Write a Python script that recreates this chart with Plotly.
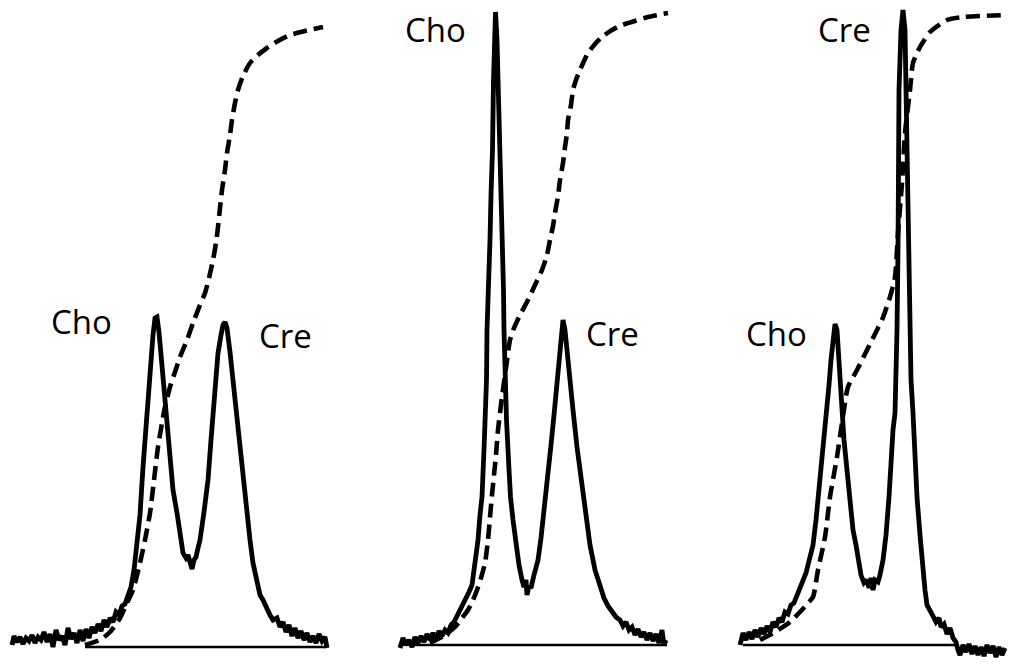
import plotly.graph_objects as go

# ---------- Panel 1 (Cho < Cre) ----------
p1_pts = [0, 2, 5, 8, 11, 14, 17, 20, 23, 26, 29, 32, 35, 38, 41, 44, 47, 50, 53, 56, 59, 62, 65, 68, 71, 74,
          77, 80, 83, 86, 89, 92, 95, 98, 101, 104, 107, 110, 113, 116, 119, 122, 125, 128, 131, 134, 136, 139,
          141, 143, 145, 147, 149, 151, 154, 158, 161, 165, 168, 171, 174, 176, 178, 180, 182, 184, 186, 188,
          192, 196, 199, 201, 204, 206, 209, 211, 213, 215, 218, 221, 224, 228, 231, 235, 238, 241, 245, 248,
          251, 255, 258, 261, 265, 268, 271, 274, 277, 280, 283, 286, 289, 292, 295, 298, 301, 304, 307, 310,
          313, 315]
p1_int = [0, 9, 3, 8, 1, 7, 4, 10, 2, 8, 5, 13, 3, 11, -2, 15, 5, 9, 0, 17, 6, 12, 2, 15, 4, 16,
          7, 18, 12, 21, 14, 25, 18, 27, 23, 33, 30, 39, 41, 49, 58, 75, 98, 130, 178, 220, 248, 285,
          310, 327, 328, 313, 290, 265, 225, 182, 155, 132, 110, 92, 87, 90, 83, 76, 85, 88, 97, 105,
          133, 165, 205, 232, 265, 292, 310, 320, 323, 317, 293, 265, 230, 192, 162, 132, 105, 82, 62, 50,
          45, 35, 30, 25, 27, 18, 23, 13, 20, 9, 17, 7, 14, 5, 12, 3, 9, 2, 11, 4,
          8, -3]
p1_integral_pts = [73, 88, 98, 108, 115, 121, 128, 133, 138, 142, 146, 150, 153, 158, 163, 168, 175, 181,
                   188, 193, 197, 201, 204, 206, 208, 210, 213, 215, 218, 220, 223, 226, 231, 238, 246, 255,
                   266, 278, 293, 311]
p1_integral = [0, 5, 13, 27, 42, 55, 82, 105, 132, 165, 198, 222, 238, 258, 273, 288, 305, 322,
               340, 352, 367, 385, 402, 418, 437, 455, 475, 492, 510, 525, 542, 555, 569, 582, 590, 597,
               604, 610, 614, 618]
p1_base_pts = [73, 313]
p1_base = [-2, -2]

# ---------- Panel 2 (Cho >> Cre) ----------
p2_pts = [0, 3, 6, 9, 12, 15, 18, 21, 24, 27, 30, 33, 36, 39, 42, 45, 48, 51, 54, 57, 60, 63, 66, 69, 72,
          75, 78, 80, 82, 84, 85.5, 86.5, 87, 89, 90, 91, 92.5, 93.5, 94.5, 95.5, 97, 98.5, 100, 101.5, 103,
          103.5, 104, 105, 106.5, 108.5, 110.5, 113, 116, 119, 122, 124, 126, 127, 129, 131, 134, 138, 141,
          144, 148, 151, 154, 157, 159, 161, 163, 165, 167, 170, 173, 177, 181, 185, 190, 195, 200, 204,
          208, 212, 216, 220, 223, 226, 229, 232, 235, 238, 241, 244, 247, 250, 253, 256, 259, 262, 264, 266]
p2_int = [-3, 7, 0, 5, -2, 8, 2, 9, 3, 11, 5, 12, 6, 14, 9, 15, 12, 20, 23, 29, 34, 40, 45, 53, 60,
          79, 105, 130, 148, 195, 225, 265, 315, 365, 405, 450, 495, 565, 615, 633, 605, 555, 495, 450, 405,
          355, 315, 265, 225, 185, 148, 125, 100, 80, 65, 58, 65, 50, 59, 57, 70, 85, 107,
          133, 167, 200, 230, 265, 290, 310, 325, 315, 293, 265, 235, 198, 165, 132, 100, 75, 57, 47,
          39, 33, 28, 25, 19, 23, 15, 18, 10, 16, 8, 13, 5, 12, 4, 11, 2, 15, 0, 5]
p2_integral_pts = [30, 45, 55, 62, 68, 73, 77, 81, 85, 88, 90, 92, 94, 96, 98, 102, 106, 110, 114, 120,
                   128, 135, 142, 147, 150, 153, 155, 158, 160, 163, 165, 167, 168, 171, 173, 176, 180,
                   184, 188, 195, 202, 212, 222, 235, 248, 268]
p2_integral = [2, 10, 18, 27, 35, 45, 55, 67, 82, 105, 128, 150, 170, 190, 215, 248, 277, 305, 317, 330,
               345, 360, 375, 390, 405, 419, 432, 449, 465, 482, 498, 512, 525, 540, 555, 565, 575,
               584, 592, 601, 608, 615, 620, 624, 628, 632]
p2_base_pts = [12, 267]
p2_base = [0, 0]

# ---------- Panel 3 (Cho < Cre, Cre narrow) ----------
p3_pts = [0, 3, 6, 9, 12, 15, 18, 21, 24, 27, 30, 33, 36, 39, 42, 45, 48, 51, 54, 57, 60, 63, 66, 68, 70,
          73, 76, 79, 81, 84, 87, 89, 91, 93, 95, 97, 99, 101, 104, 107, 110, 113, 116, 118, 121, 124, 127,
          129, 131, 133, 135, 138, 140, 143, 146, 149, 151, 153, 155, 156, 157, 158, 158.5, 159, 161, 163,
          165, 166, 168, 169.5, 170, 171, 173, 175, 177, 180, 182, 185, 187, 190, 193, 196, 199, 201, 204,
          207, 210, 213, 216, 218, 220, 223, 226, 229, 232, 235, 238, 241, 244, 247, 250, 253, 256, 259,
          262, 265]
p3_int = [0, 12, 5, 13, 6, 15, 8, 17, 11, 19, 13, 23, 18, 27, 23, 33, 31, 40, 42, 49, 55, 63, 72, 80, 89,
          100, 125, 155, 175, 205, 232, 260, 285, 310, 321, 315, 285, 245, 205, 175, 140, 115, 100, 85, 70,
          62, 65, 57, 67, 55, 65, 63, 70, 85, 110, 148, 185, 215, 232, 265, 315, 395, 478, 555, 615, 635,
          615, 555, 478, 395, 315, 265, 232, 185, 148, 110, 82, 55, 40, 33, 29, 23, 27, 18, 21,
          11, 17, 7, 3, -5, -10, 0, -7, 1, -9, -1, -10, -2, -11, 0, -8, -1, -12, -2,
          -10, -3]
p3_integral_pts = [20, 35, 50, 60, 68, 73, 78, 85, 90, 97, 102, 108, 117, 127, 137, 142, 150, 155, 158,
                   162, 165, 170, 173, 180, 190, 207, 223, 268]
p3_integral = [5, 13, 23, 33, 42, 48, 75, 108, 148, 188, 222, 258, 275, 295, 315, 325, 348, 368, 412,
               462, 512, 555, 582, 598, 613, 625, 628, 630]
p3_base_pts = [3, 217]
p3_base = [0, 0]

# ---------- Labels ----------
label_text = [["Cho", "Cre"], ["Cho", "Cre"], ["Cho", "Cre"]]
label_x = [[69, 273], [35, 212], [36, 104]]
label_y = [[324, 310], [616, 312], [312, 616]]

panels = [
    (p1_pts, p1_int, p1_integral_pts, p1_integral, p1_base_pts, p1_base),
    (p2_pts, p2_int, p2_integral_pts, p2_integral, p2_base_pts, p2_base),
    (p3_pts, p3_int, p3_integral_pts, p3_integral, p3_base_pts, p3_base),
]

W, H = 1010, 666
x_domains = [[0, 340 / W], [380 / W, 680 / W], [720 / W, 1.0]]
x_ranges = [[-12, 328], [-20, 280], [-20, 270]]
y_range = [-21, 645]

fig = go.Figure()
for i, (sx, sy, ix, iy, bx, by) in enumerate(panels):
    xa = "x" if i == 0 else f"x{i+1}"
    ya = "y" if i == 0 else f"y{i+1}"
    fig.add_trace(go.Scatter(x=bx, y=by, mode="lines", xaxis=xa, yaxis=ya,
                             line=dict(color="black", width=2.4), hoverinfo="skip"))
    fig.add_trace(go.Scatter(x=ix, y=iy, mode="lines", xaxis=xa, yaxis=ya,
                             line=dict(color="black", width=4.6, dash="14px,7px", shape="spline",
                                       smoothing=0.6), hoverinfo="skip"))
    fig.add_trace(go.Scatter(x=sx, y=sy, mode="lines", xaxis=xa, yaxis=ya,
                             line=dict(color="black", width=4.8), hoverinfo="skip"))
    for t, lx, ly in zip(label_text[i], label_x[i], label_y[i]):
        fig.add_annotation(x=lx, y=ly, xref=xa, yref=ya, text=t, showarrow=False,
                           xanchor="center", yanchor="middle",
                           font=dict(family="Open Sans", size=33, color="black"))

axis_common = dict(showgrid=False, zeroline=False, showticklabels=False, showline=False, ticks="")
layout = dict(
    width=W, height=H,
    margin=dict(l=0, r=0, t=0, b=0),
    paper_bgcolor="white", plot_bgcolor="white",
    showlegend=False,
)
for i in range(3):
    xk = "xaxis" if i == 0 else f"xaxis{i+1}"
    yk = "yaxis" if i == 0 else f"yaxis{i+1}"
    ya = "y" if i == 0 else f"y{i+1}"
    xa = "x" if i == 0 else f"x{i+1}"
    layout[xk] = dict(domain=x_domains[i], range=x_ranges[i], anchor=ya, fixedrange=True, **axis_common)
    layout[yk] = dict(domain=[0, 1], range=y_range, anchor=xa, fixedrange=True, **axis_common)
fig.update_layout(**layout)

fig.write_html("out.html", config={"displayModeBar": False})
